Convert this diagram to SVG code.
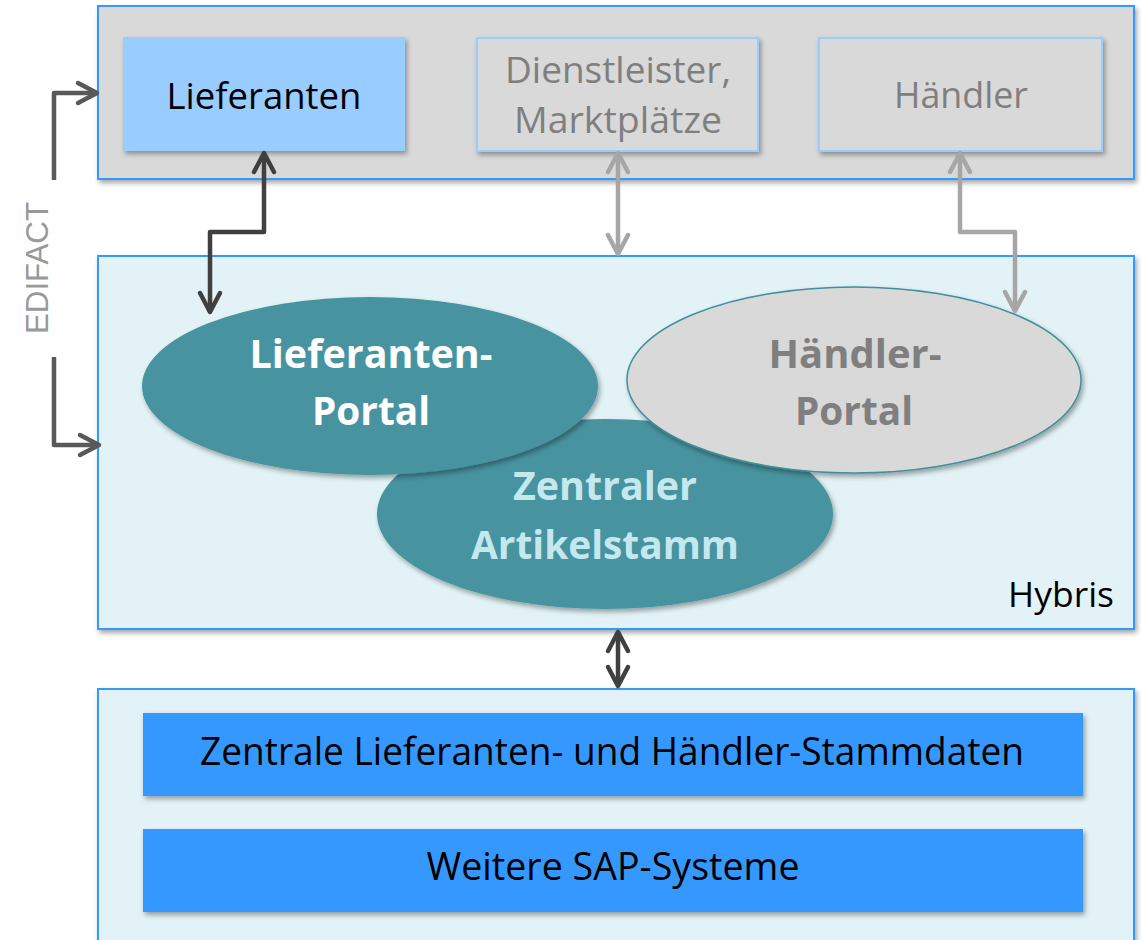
<svg xmlns="http://www.w3.org/2000/svg" width="1142" height="940" viewBox="0 0 1142 940">
  <style>
    .frame { stroke: #3399ff; stroke-width: 2; }
    .lbl { font-family: "Open Sans", "Liberation Sans", sans-serif; text-anchor: middle; }
    .bold { font-weight: bold; }
    .wire { fill: none; stroke-width: 4.5; stroke-linejoin: round; }
    .dark { stroke: #404040; }
    .mid { stroke: #595959; }
    .light { stroke: #a6a6a6; }
  </style>
  <defs>
    <filter id="shadow" x="-10%" y="-10%" width="120%" height="130%">
      <feDropShadow dx="2" dy="3" stdDeviation="2.5" flood-color="#000" flood-opacity="0.35"/>
    </filter>
    <marker id="headDark" viewBox="-26 -15 30 30" refX="0" refY="0" markerWidth="30" markerHeight="30" markerUnits="userSpaceOnUse" orient="auto-start-reverse">
      <path d="M-19,-10 L0,0 L-19,10" fill="none" stroke="#404040" stroke-width="4.5" stroke-linecap="round" stroke-linejoin="round"/>
    </marker>
    <marker id="headMid" viewBox="-26 -15 30 30" refX="0" refY="0" markerWidth="30" markerHeight="30" markerUnits="userSpaceOnUse" orient="auto-start-reverse">
      <path d="M-19,-10 L0,0 L-19,10" fill="none" stroke="#595959" stroke-width="4.5" stroke-linecap="round" stroke-linejoin="round"/>
    </marker>
    <marker id="headLight" viewBox="-26 -15 30 30" refX="0" refY="0" markerWidth="30" markerHeight="30" markerUnits="userSpaceOnUse" orient="auto-start-reverse">
      <path d="M-19,-10 L0,0 L-19,10" fill="none" stroke="#a6a6a6" stroke-width="4.5" stroke-linecap="round" stroke-linejoin="round"/>
    </marker>
  </defs>

  <rect width="1142" height="940" fill="#ffffff"/>

  <!-- partner layer -->
  <g id="partners">
    <rect class="frame" x="98" y="6" width="1036" height="173" fill="#d9d9d9" filter="url(#shadow)"/>
  </g>
  <g id="lieferanten">
    <rect x="123" y="37" width="282" height="114" fill="#99ccff" filter="url(#shadow)"/>
    <text class="lbl" x="264" y="109" font-size="36" fill="#000" textLength="195" lengthAdjust="spacingAndGlyphs">Lieferanten</text>
  </g>
  <g id="dienstleister">
    <rect x="477" y="38" width="281" height="113" fill="#d9d9d9" stroke="#99ccff" stroke-width="2" filter="url(#shadow)"/>
    <text class="lbl" x="618" y="83" font-size="36" fill="#7f7f7f" textLength="226" lengthAdjust="spacingAndGlyphs">Dienstleister,</text>
    <text class="lbl" x="618" y="133" font-size="36" fill="#7f7f7f" textLength="208" lengthAdjust="spacingAndGlyphs">Marktplätze</text>
  </g>
  <g id="haendler">
    <rect x="819" y="38" width="283" height="113" fill="#d9d9d9" stroke="#99ccff" stroke-width="2" filter="url(#shadow)"/>
    <text class="lbl" x="961" y="108" font-size="36" fill="#7f7f7f" textLength="134" lengthAdjust="spacingAndGlyphs">Händler</text>
  </g>

  <!-- Hybris layer -->
  <g id="hybris">
    <rect class="frame" x="98" y="256" width="1036" height="373" fill="#e2f2f6" filter="url(#shadow)"/>
    <text class="lbl" x="1061" y="607" font-size="34" fill="#000" textLength="106" lengthAdjust="spacingAndGlyphs">Hybris</text>
  </g>
  <g id="artikelstamm">
    <ellipse cx="605" cy="514" rx="228" ry="95" fill="#46939f" filter="url(#shadow)"/>
    <text class="lbl bold" x="605" y="500" font-size="39" fill="#c5e8ef" textLength="184" lengthAdjust="spacingAndGlyphs">Zentraler</text>
    <text class="lbl bold" x="605" y="559" font-size="39" fill="#c5e8ef" textLength="268" lengthAdjust="spacingAndGlyphs">Artikelstamm</text>
  </g>
  <g id="lieferanten-portal">
    <ellipse cx="370" cy="386" rx="228" ry="89" fill="#46939f" filter="url(#shadow)"/>
    <text class="lbl bold" x="371" y="368" font-size="39" fill="#ffffff" textLength="243" lengthAdjust="spacingAndGlyphs">Lieferanten-</text>
    <text class="lbl bold" x="371" y="425" font-size="39" fill="#ffffff" textLength="118" lengthAdjust="spacingAndGlyphs">Portal</text>
  </g>
  <g id="haendler-portal">
    <ellipse cx="854" cy="380" rx="227" ry="93" fill="#d9d9d9" stroke="#3f8f9b" stroke-width="1.5" filter="url(#shadow)"/>
    <text class="lbl bold" x="855" y="368" font-size="39" fill="#7f7f7f" textLength="173" lengthAdjust="spacingAndGlyphs">Händler-</text>
    <text class="lbl bold" x="854" y="425" font-size="39" fill="#7f7f7f" textLength="118" lengthAdjust="spacingAndGlyphs">Portal</text>
  </g>

  <!-- SAP layer -->
  <g id="sap">
    <rect class="frame" x="98" y="689" width="1036" height="270" fill="#e2f2f6" filter="url(#shadow)"/>
  </g>
  <g id="stammdaten">
    <rect x="143" y="713" width="940" height="83" fill="#3598ff" filter="url(#shadow)"/>
    <text class="lbl" x="612" y="765" font-size="39" fill="#000" textLength="824" lengthAdjust="spacingAndGlyphs">Zentrale Lieferanten- und Händler-Stammdaten</text>
  </g>
  <g id="sap-systeme">
    <rect x="143" y="829" width="940" height="83" fill="#3598ff" filter="url(#shadow)"/>
    <text class="lbl" x="613" y="880" font-size="39" fill="#000" textLength="373" lengthAdjust="spacingAndGlyphs">Weitere SAP-Systeme</text>
  </g>

  <!-- EDIFACT label -->
  <g id="edifact">
    <text x="0" y="0" transform="translate(48,268) rotate(-90)" font-family="Liberation Sans, Arial, sans-serif" font-size="31" fill="#999999" text-anchor="middle" textLength="132" lengthAdjust="spacingAndGlyphs">EDIFACT</text>
  </g>

  <!-- connectors -->
  <g id="connectors">
    <path class="wire mid" d="M54,180 V93 H97" marker-end="url(#headMid)"/>
    <path class="wire mid" d="M54,357 V445 H99" marker-end="url(#headMid)"/>
    <path class="wire dark" d="M264,153 V232 H210 V312" marker-start="url(#headDark)" marker-end="url(#headDark)"/>
    <path class="wire light" d="M618,153 V254" marker-start="url(#headLight)" marker-end="url(#headLight)"/>
    <path class="wire light" d="M960,153 V232 H1015 V311" marker-start="url(#headLight)" marker-end="url(#headLight)"/>
    <path class="wire dark" d="M618,632 V686" marker-start="url(#headDark)" marker-end="url(#headDark)"/>
  </g>
</svg>
